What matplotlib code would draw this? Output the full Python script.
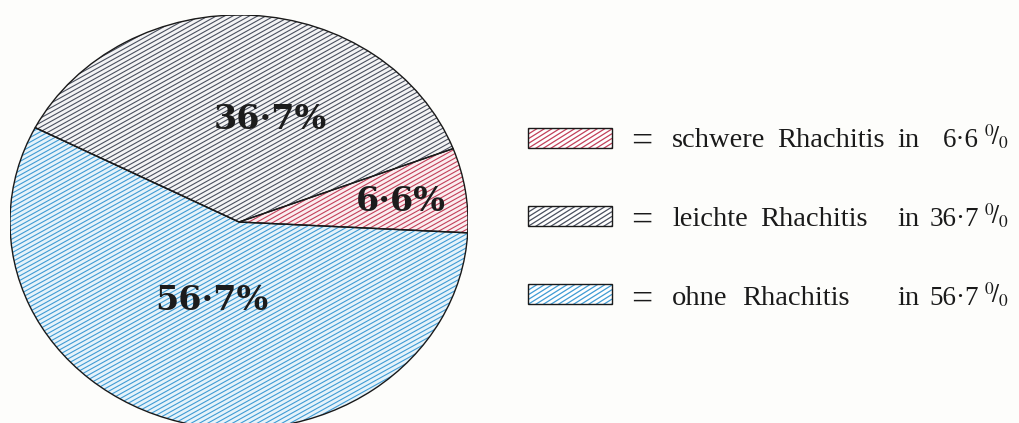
import numpy as np
import matplotlib.pyplot as plt
from matplotlib.collections import LineCollection
from matplotlib.patches import Rectangle, Wedge

# ---- data ----
categories = ["schwere Rhachitis", "leichte Rhachitis", "ohne Rhachitis"]
values = [6.6, 36.7, 56.7]
pie_labels = ["6·6%", "36·7%", "56·7%"]
legend_values = ["6·6", "36·7", "56·7"]

stripe_colors = ["#c2405a", "#4a505f", "#3f9bd4"]
bg_colors = ["#fbeef0", "#f4f4f5", "#e6f3fa"]

W, H = 1020, 423
fig = plt.figure(figsize=(W / 100, H / 100), dpi=100)
fig.patch.set_facecolor("#fdfdfb")

# ellipse geometry in pixels
cx, cy, rx, ry = 239, 222, 229, 207
axp = fig.add_axes([(cx - rx) / W, (H - cy - ry) / H, 2 * rx / W, 2 * ry / H])
wedges, _ = axp.pie(values, startangle=-3, counterclock=True, colors=bg_colors,
                    radius=1, wedgeprops=dict(edgecolor="none", linewidth=0))
axp.set_aspect("auto")
axp.set_xlim(-1, 1)
axp.set_ylim(-1, 1)
axp.axis("off")

spacing = 4.0  # px perpendicular


def stripes(ax, x0, x1, y0, y1, sx, sy, color, clip, lw=0.8, angle=29):
    a = np.deg2rad(angle)
    t = np.tan(a)
    vstep = spacing / np.cos(a)
    segs = []
    span = abs(x1 - x0) * abs(t)
    c = y0 - span - 10
    while c < y1 + span + 10:
        segs.append([(x0 * sx, c * sy), (x1 * sx, (c + t * (x1 - x0)) * sy)])
        c += vstep
    lc = LineCollection(segs, colors=color, linewidths=lw, zorder=3)
    ax.add_collection(lc)
    lc.set_clip_path(clip)


for w, col in zip(wedges, stripe_colors):
    stripes(axp, -rx, rx, -ry, ry, 1 / rx, 1 / ry, col, w)
    axp.add_patch(Wedge(w.center, w.r, w.theta1, w.theta2, fill=False,
                        edgecolor="#1a1a1a", linewidth=1.0, zorder=5))

# pie labels (pixel positions)
label_pos = [(401, 201), (270, 119), (212, 300)]
for txt, (x, y) in zip(pie_labels, label_pos):
    fig.text(x / W, 1 - y / H, txt, ha="center", va="center",
             fontsize=24, fontweight="bold", family="DejaVu Serif",
             color="#1c1c1c", zorder=10)

# legend overlay (pixel coordinates, y downward)
axo = fig.add_axes([0, 0, 1, 1])
axo.set_xlim(0, W)
axo.set_ylim(H, 0)
axo.axis("off")
axo.patch.set_alpha(0)

row_y = [138, 216, 294]
baselines = [147, 226, 305]
word_x = [
    [672, 777],
    [672, 760],
    [672, 742],
]
for i, (name, val, col) in enumerate(zip(categories, legend_values, stripe_colors)):
    yc = row_y[i]
    rect = Rectangle((528, yc - 10), 84, 20, facecolor="white", edgecolor="none", zorder=2)
    axo.add_patch(rect)
    stripes(axo, 528, 612, yc - 12, yc + 12, 1, 1, col, rect, lw=0.9, angle=-32)
    axo.add_patch(Rectangle((528, yc - 10), 84, 20, fill=False,
                            edgecolor="#1a1a1a", linewidth=1.0, zorder=5))
    base = baselines[i]
    tk = dict(family="Liberation Serif", fontsize=20.5, color="#1a1a1a",
              va="baseline", ha="left")
    axo.text(631, base + 5, "=", family="Liberation Serif", fontsize=27,
             color="#1a1a1a", va="baseline", ha="left")
    w1, w2 = name.split(" ")
    axo.text(word_x[i][0], base, w1, **tk)
    axo.text(word_x[i][1], base, w2, **tk)
    axo.text(897, base, "in", **tk)
    axo.text(979, base, val, family="Liberation Serif", fontsize=19.5,
             color="#1a1a1a", va="baseline", ha="right")
    axo.text(984, base - 1, r"$^{0}\!/_{0}$", fontsize=18, color="#1a1a1a",
             va="baseline", ha="left", math_fontfamily="stix")

fig.savefig("out.png", dpi=100, facecolor=fig.get_facecolor())
